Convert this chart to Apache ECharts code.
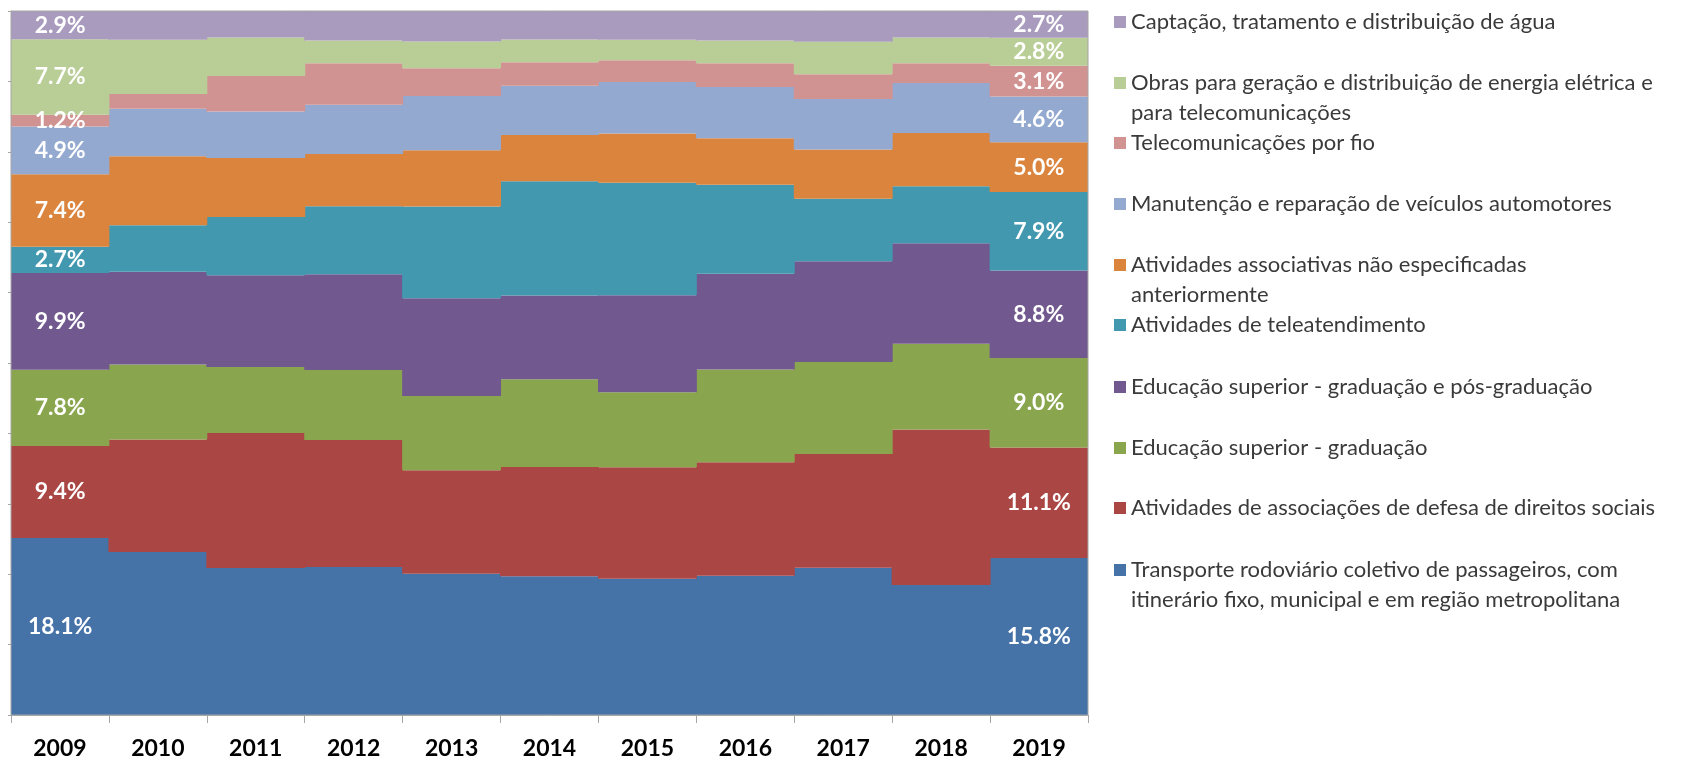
<!DOCTYPE html>
<html>
<head>
<meta charset="utf-8">
<script src="https://cdn.jsdelivr.net/npm/echarts@6/dist/echarts.min.js"></script>
<style>
html,body{margin:0;padding:0;background:#fff;}
#chart{width:1698px;height:762px;}
</style>
</head>
<body>
<div id="chart"></div>
<script>
const years = ['2009','2010','2011','2012','2013','2014','2015','2016','2017','2018','2019'];

const seriesNames = [
  'Transporte rodoviário coletivo de passageiros, com itinerário fixo, municipal e em região metropolitana',
  'Atividades de associações de defesa de direitos sociais',
  'Educação superior - graduação',
  'Educação superior - graduação e pós-graduação',
  'Atividades de teleatendimento',
  'Atividades associativas não especificadas anteriormente',
  'Manutenção e reparação de veículos automotores',
  'Telecomunicações por fio',
  'Obras para geração e distribuição de energia elétrica e para telecomunicações',
  'Captação, tratamento e distribuição de água'
];

// legend display lines (wrapped as in the reference)
const legendLines = [
  ['Transporte rodoviário coletivo de passageiros, com', 'itinerário fixo, municipal e em região metropolitana'],
  ['Atividades de associações de defesa de direitos sociais'],
  ['Educação superior - graduação'],
  ['Educação superior - graduação e pós-graduação'],
  ['Atividades de teleatendimento'],
  ['Atividades associativas não especificadas', 'anteriormente'],
  ['Manutenção e reparação de veículos automotores'],
  ['Telecomunicações por fio'],
  ['Obras para geração e distribuição de energia elétrica e', 'para telecomunicações'],
  ['Captação, tratamento e distribuição de água']
];

// values in % (2009 and 2019 labelled in the reference; others estimated)
const transporte   = [18.1, 16.5, 14.9, 15.0, 14.3, 14.1, 13.8, 14.1, 14.9, 13.2, 15.8];
const defesa       = [ 9.4, 11.4, 13.7, 12.9, 10.5, 11.1, 11.3, 11.5, 11.5, 15.8, 11.1];
const eduGrad      = [ 7.8,  7.6,  6.7,  7.1,  7.5,  8.9,  7.6,  9.4,  9.3,  8.7,  9.0];
const eduPos       = [ 9.9,  9.4,  9.3,  9.7,  9.9,  8.5,  9.8,  9.7, 10.2, 10.2,  8.8];
const teleatend    = [ 2.7,  4.7,  5.9,  6.9,  9.3, 11.6, 11.4,  9.0,  6.3,  5.8,  7.9];
const associativas = [ 7.4,  7.0,  6.0,  5.3,  5.7,  4.7,  5.0,  4.7,  5.0,  5.4,  5.0];
const manutencao   = [ 4.9,  4.8,  4.7,  5.0,  5.5,  5.0,  5.2,  5.2,  5.1,  5.1,  4.6];
const telecom      = [ 1.2,  1.5,  3.6,  4.2,  2.8,  2.4,  2.2,  2.4,  2.5,  2.0,  3.1];
const obras        = [ 7.7,  5.5,  3.9,  2.3,  2.7,  2.3,  2.1,  2.3,  3.3,  2.6,  2.8];
const captacao     = [ 2.9,  2.9,  2.7,  3.0,  3.1,  2.9,  2.9,  3.0,  3.1,  2.7,  2.7];

const allValues = [transporte, defesa, eduGrad, eduPos, teleatend, associativas, manutencao, telecom, obras, captacao];
const colors = ['#4572A7','#AA4643','#89A54E','#71588F','#4198AF','#DB843D','#93A9CF','#D19392','#B9CD96','#A99BBD'];

// legend first-line vertical positions (top of item box)
const legendTops = [525, 493, 433, 372, 310, 220, 189, 128, 38, 7];

const totals = years.map((_, i) => allValues.reduce((s, arr) => s + arr[i], 0));
const labelIdx = [0, years.length - 1];

const series = allValues.map((vals, si) => ({
  name: seriesNames[si],
  type: 'bar',
  stack: 'total',
  barWidth: '101%',
  itemStyle: { color: colors[si] },
  emphasis: { disabled: true },
  data: vals.map((v, i) => ({
    value: v / totals[i] * 100,
    label: { show: labelIdx.indexOf(i) >= 0 }
  })),
  label: {
    position: 'inside',
    color: '#fff',
    fontFamily: 'Lato',
    fontWeight: 'bold',
    fontSize: 23,
    formatter: p => vals[p.dataIndex].toFixed(1) + '%'
  }
}));

const legends = seriesNames.map((name, si) => ({
  left: 1114,
  top: legendTops[si],
  padding: 0,
  orient: 'vertical',
  icon: 'rect',
  itemWidth: 12,
  itemHeight: 12,
  selectedMode: false,
  data: [name],
  formatter: () => legendLines[si].length > 1 ? '\n' + legendLines[si].join('\n') : legendLines[si][0],
  textStyle: { fontFamily: 'Lato', fontSize: 22, lineHeight: 30, color: '#3a3a3a' }
}));

const chart = echarts.init(document.getElementById('chart'), null, { renderer: 'canvas' });
chart.setOption({
  animation: false,
  backgroundColor: '#fff',
  grid: { left: 11, right: 610, top: 11, bottom: 47, show: true, borderColor: '#A6A6A6', borderWidth: 1, backgroundColor: 'transparent', z: 3 },
  legend: legends,
  xAxis: {
    type: 'category',
    data: years,
    boundaryGap: true,
    splitLine: { show: false },
    axisLine: { lineStyle: { color: '#A6A6A6', width: 1 } },
    axisTick: { show: true, length: 8, lineStyle: { color: '#A6A6A6' } },
    axisLabel: { color: '#000', fontFamily: 'Lato', fontWeight: 'bold', fontSize: 23, margin: 22 }
  },
  yAxis: {
    type: 'value',
    min: 0,
    max: 100,
    interval: 10,
    splitLine: { show: false },
    axisLine: { show: true, lineStyle: { color: '#A6A6A6', width: 1 } },
    axisTick: { show: true, length: 3, lineStyle: { color: '#A6A6A6' } },
    axisLabel: { show: false }
  },
  series: series
});
</script>
</body>
</html>
